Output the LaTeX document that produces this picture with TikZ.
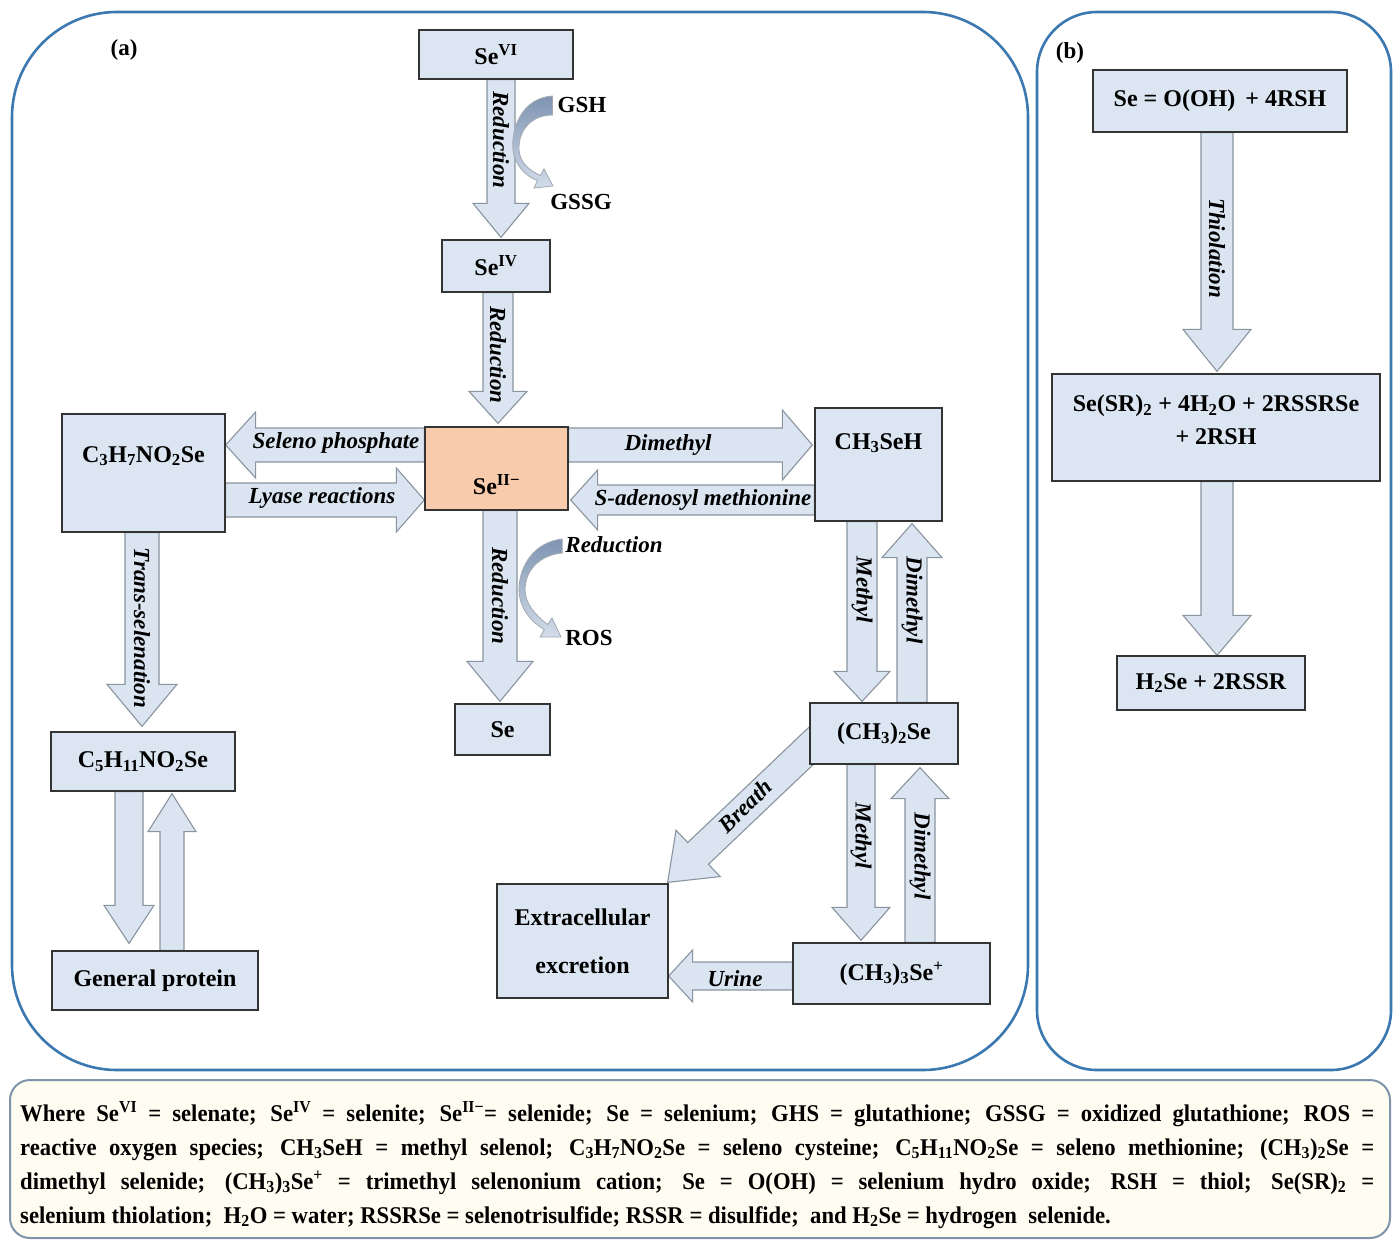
\documentclass[tikz,border=0pt]{standalone}
\usepackage{fontspec}
\setmainfont{Liberation Serif}
\newfontfamily\legfont[FakeStretch=0.945]{Liberation Serif}
\usetikzlibrary{calc,backgrounds}
\definecolor{boxblue}{HTML}{DCE6F2}
\definecolor{arrblue}{HTML}{DBE5F1}
\definecolor{arredge}{HTML}{8A949F}
\definecolor{peach}{HTML}{F8CBAD}
\definecolor{framebl}{HTML}{3B78B0}
\definecolor{legedge}{HTML}{7C94AC}
\definecolor{legfill}{HTML}{FFFDF1}
\definecolor{curvdark}{HTML}{7F94B2}
\definecolor{curvlight}{HTML}{D3DDEA}
\newcommand\lo[1]{\textsubscript{#1}}
\newcommand\hi[1]{\textsuperscript{#1}}
\newcommand\blockarr[5]{%
  \coordinate (bh) at ($(#2)!#5pt!(#1)$);
  \draw[blockarrow] ($(#1)!#3pt!90:(#2)$) -- ($(bh)!#3pt!-90:(#1)$) -- ($(bh)!#4pt!-90:(#1)$) -- (#2) -- ($(bh)!#4pt!90:(#1)$) -- ($(bh)!#3pt!90:(#1)$) -- ($(#1)!#3pt!-90:(#2)$) -- cycle;}
\tikzset{
  box/.style={draw=black!80, line width=1.3pt, fill=boxblue, inner sep=0pt, font=\fontsize{24}{28}\selectfont\bfseries},
  boxtext/.style={inner sep=0pt, font=\fontsize{24}{28}\selectfont\bfseries},
  blockarrow/.style={draw=arredge, line width=1.1pt, fill=arrblue, line join=miter},
  lbl/.style={inner sep=0pt, font=\fontsize{23}{27}\selectfont\bfseries\itshape},
  plain/.style={inner sep=0pt, font=\fontsize{23}{27}\selectfont\bfseries},
  frame/.style={draw=framebl, line width=2.6pt},
  curved/.style={draw=arredge!80, line width=0.8pt, top color=curvdark, bottom color=curvlight},
}
\begin{document}
\begin{tikzpicture}[x=1pt,y=-1pt]
\useasboundingbox (0,0) rectangle (1397,1244);
% frames
\draw[frame, rounded corners=105pt] (12,12) rectangle (1028,1070);
\draw[frame, rounded corners=60pt] (1037,12) rectangle (1391,1070);
\draw[draw=legedge, line width=2pt, fill=legfill, rounded corners=20pt] (10,1080) rectangle (1390,1238);
\node[plain] (la) at (124,50) {(a)};
\node[plain] (lb) at (1070,53) {(b)};
% boxes panel a
\node[box, minimum width=154pt, minimum height=49pt] (SeVI) at (496,54.5) {Se\hi{VI}};
\node[box, minimum width=108pt, minimum height=52pt] (SeIV) at (496,266) {Se\hi{IV}};
\node[box, fill=peach, minimum width=143pt, minimum height=83pt] (SeII) at (496.5,468.5) {};
\node[boxtext] (SeIIt) at (496.5,485) {Se\hi{II−}};
\node[box, minimum width=95pt, minimum height=51pt] (Se) at (502.5,729.5) {Se};
\node[box, minimum width=163pt, minimum height=118pt] (C3) at (143.5,473) {};
\node[boxtext] (C3t) at (143.5,456) {C\lo{3}H\lo{7}NO\lo{2}Se};
\node[box, minimum width=127pt, minimum height=113pt] (CH3SeH) at (878.5,464.5) {};
\node[boxtext] (CH3SeHt) at (878.5,443) {CH\lo{3}SeH};
\node[box, minimum width=184pt, minimum height=59pt] (C5) at (143,761.5) {C\lo{5}H\lo{11}NO\lo{2}Se};
\node[box, minimum width=206pt, minimum height=59pt] (GP) at (155,980.5) {General protein};
\node[box, minimum width=148pt, minimum height=61pt] (DMS) at (884,733.5) {(CH\lo{3})\lo{2}Se};
\node[box, minimum width=197pt, minimum height=61pt] (TMS) at (891.5,973.5) {(CH\lo{3})\lo{3}Se\hi{+}};
\node[box, minimum width=171pt, minimum height=114pt, align=center] (Ext) at (582.5,941) {Extracellular\\[20pt]excretion};
% boxes panel b
\node[box, minimum width=254pt, minimum height=62pt] (B1) at (1220,101) {Se = O(OH) \,+ 4RSH};
\node[box, minimum width=328pt, minimum height=107pt] (B2) at (1216,427.5) {};
\node[boxtext, align=center, font=\fontsize{24}{33}\selectfont\bfseries] (B2t) at (1216,420) {Se(SR)\lo{2} + 4H\lo{2}O + 2RSSRSe\\+ 2RSH};
\node[box, minimum width=188pt, minimum height=54pt] (B3) at (1211,683) {H\lo{2}Se + 2RSSR};
% arrow end points
\coordinate (a1s) at ($(SeVI.south)+(5,0)$);   \coordinate (a1e) at ($(SeIV.north)+(5,-2)$);
\coordinate (a2s) at ($(SeIV.south)+(2,0)$);   \coordinate (a2e) at ($(SeII.north)+(1.5,-3)$);
\coordinate (a3s) at ($(SeII.south)+(3.5,0)$); \coordinate (a3e) at ($(Se.north)+(-2.5,-2)$);
\coordinate (a4s) at ($(SeII.west)+(0,-23.5)$); \coordinate (a4e) at ($(C3.east)+(0,-28)$);
\coordinate (a5s) at ($(C3.east)+(0,27)$);     \coordinate (a5e) at ($(SeII.west)+(0,31.5)$);
\coordinate (a6s) at ($(SeII.east)+(0,-23.5)$); \coordinate (a6e) at ($(CH3SeH.west)+(-2,-19.5)$);
\coordinate (a7s) at ($(CH3SeH.west)+(0,35.5)$); \coordinate (a7e) at ($(SeII.east)+(2,31.5)$);
\coordinate (a8s) at ($(C3.south)+(-1.5,0)$);  \coordinate (a8e) at ($(C5.north)+(-1,-5)$);
\coordinate (a9s) at ($(C5.south)+(-14,0)$);   \coordinate (a9e) at ($(GP.north)+(-26,-7)$);
\coordinate (a10s) at ($(GP.north)+(17,0)$);   \coordinate (a10e) at ($(C5.south)+(29,2)$);
\coordinate (a11s) at ($(CH3SeH.south)+(-16.5,0)$); \coordinate (a11e) at ($(DMS.north)+(-22,-1)$);
\coordinate (a12s) at ($(DMS.north)+(28,0)$);  \coordinate (a12e) at ($(CH3SeH.south)+(33.5,2)$);
\coordinate (a13s) at ($(DMS.south)+(-23,0)$); \coordinate (a13e) at ($(TMS.north)+(-30.5,-2)$);
\coordinate (a14s) at ($(TMS.north)+(28.5,0)$); \coordinate (a14e) at ($(DMS.south)+(36,3)$);
\coordinate (a15s) at ($(TMS.west)+(0,2.5)$);  \coordinate (a15e) at ($(Ext.east)+(0,35)$);
\coordinate (a16s) at ($(DMS.west)+(20,-5)$);  \coordinate (a16e) at ($(Ext.north east)+(-1,-1)$);
\coordinate (b1s) at ($(B1.south)+(-3,0)$);    \coordinate (b1e) at ($(B2.north)+(1,-2)$);
\coordinate (b2s) at ($(B2.south)+(1,0)$);     \coordinate (b2e) at ($(B3.north)+(6,0)$);
\begin{scope}[on background layer]
\fill[white] (0,0) rectangle (1397,1244);
\blockarr{a1s}{a1e}{14}{28}{34}
\blockarr{a2s}{a2e}{15}{29}{32}
\blockarr{a3s}{a3e}{17}{33}{40}
\blockarr{a4s}{a4e}{17}{33}{30}
\blockarr{a5s}{a5e}{17}{32}{28}
\blockarr{a6s}{a6e}{17}{35}{30}
\blockarr{a7s}{a7e}{15}{30}{27}
\blockarr{a8s}{a8e}{17}{35}{42}
\blockarr{a9s}{a9e}{14}{25}{38}
\blockarr{a10s}{a10e}{12}{24}{38}
\blockarr{a11s}{a11e}{15}{28}{30}
\blockarr{a12s}{a12e}{15}{30}{34}
\blockarr{a13s}{a13e}{14}{29}{33}
\blockarr{a14s}{a14e}{15}{29}{31}
\blockarr{a15s}{a15e}{14}{26}{24}
\blockarr{a16s}{a16e}{15}{32}{42}
\blockarr{b1s}{b1e}{16}{34}{42}
\blockarr{b2s}{b2e}{16}{34}{40}
\end{scope}
% arrow labels
\node[lbl, rotate=-90] (r1) at (501,140) {Reduction};
\node[lbl, rotate=-90] (r2) at (498,355) {Reduction};
\node[lbl, rotate=-90] (r3) at (500,596) {Reduction};
\node[lbl] (sp) at (336,443) {Seleno phosphate};
\node[lbl] (ly) at (322,498) {Lyase reactions};
\node[lbl] (dm) at (668,445) {Dimethyl};
\node[lbl] (sam) at (703,500) {S-adenosyl methionine};
\node[lbl, rotate=-90] (ts) at (142,628) {Trans-selenation};
\node[lbl, rotate=-90] (me1) at (862,590) {Methyl};
\node[lbl, rotate=-90] (dm1) at (912,600) {Dimethyl};
\node[lbl, rotate=-90] (me2) at (861,836) {Methyl};
\node[lbl, rotate=-90] (dm2) at (920,856) {Dimethyl};
\node[lbl, rotate=44] (br) at (745,806) {Breath};
\node[lbl] (ur) at (735,979) {Urine};
\node[lbl, rotate=-90] (th) at (1217,248) {Thiolation};
% curved side arrows
\node[plain] (GSH) at (582,105) {GSH};
\node[plain] (GSSG) at (581,202) {GSSG};
\node[lbl] (redn) at (614,545) {Reduction};
\node[plain] (ROS) at (589,638) {ROS};
\path[curved] ($(GSH.west)+(-5,-9)$) .. controls (522,98) and (511,128) .. (513,150) .. controls (515,165) and (525,176) .. (537.5,180.6) -- (534,188) -- (553,186) -- (544,169) -- (540.5,175.4) .. controls (530,171) and (520,163) .. (519,150) .. controls (518,132) and (530,115) .. ($(GSH.west)+(-5,10)$) -- cycle;
\path[curved] ($(redn.west)+(-3,-6)$) .. controls (535,542) and (519,565) .. (519,590) .. controls (519,605) and (528,620) .. (544.3,629.5) -- (540,637) -- (561,637) -- (552,618) -- (547.7,624.5) .. controls (535,615) and (525,603) .. (525,590) .. controls (525,570) and (540,555) .. ($(redn.west)+(-3,8)$) -- cycle;
% legend
\node[anchor=north west, inner sep=0pt, text width=1354pt, align=justify, font=\legfont\fontsize{24}{34}\selectfont\bfseries] (legtext) at (20,1101) {Where Se\hi{VI} = selenate; Se\hi{IV} = selenite; Se\hi{II−}= selenide; Se = selenium; GHS = glutathione; GSSG = oxidized glutathione; ROS =\linebreak reactive oxygen species; CH\lo{3}SeH = methyl selenol; C\lo{3}H\lo{7}NO\lo{2}Se = seleno cysteine; C\lo{5}H\lo{11}NO\lo{2}Se = seleno methionine; (CH\lo{3})\lo{2}Se =\linebreak dimethyl selenide; (CH\lo{3})\lo{3}Se\hi{+} = trimethyl selenonium cation; Se = O(OH) = selenium hydro oxide; RSH = thiol; Se(SR)\lo{2} =\linebreak selenium thiolation; \ H\lo{2}O = water; RSSRSe = selenotrisulfide; RSSR = disulfide; \ and H\lo{2}Se = hydrogen \ selenide.};
\end{tikzpicture}
\end{document}
